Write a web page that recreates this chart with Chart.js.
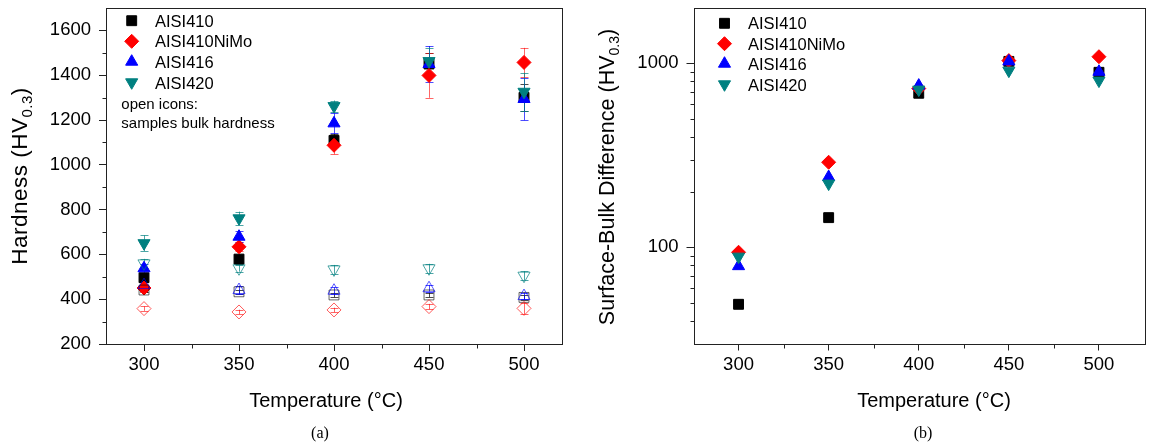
<!DOCTYPE html>
<html>
<head>
<meta charset="utf-8">
<script src="https://cdn.jsdelivr.net/npm/chart.js@4.4.1/dist/chart.umd.min.js"></script>
<style>
  html, body { margin: 0; padding: 0; background: #fff; }
  body { width: 1152px; height: 446px; position: relative; overflow: hidden; font-family: "Liberation Sans", Arial, sans-serif; color: #000; }
  .box { position: absolute; top: 0; width: 576px; height: 446px; }
  .ytitle { position: absolute; width: 320px; text-align: center; white-space: nowrap; font-size: 21.5px; line-height: 21.5px; transform-origin: 0 0; transform: rotate(-90deg); }
  .ytitle .sb { font-size: 14px; line-height: 0; vertical-align: -5px; }
  .xtitle { position: absolute; width: 300px; text-align: center; white-space: nowrap; font-size: 20px; line-height: 20px; }
  .cap { position: absolute; width: 60px; text-align: center; font-family: "Liberation Serif", "Times New Roman", serif; font-size: 16px; line-height: 16px; }
</style>
</head>
<body>
<div class="box" style="left:0"><canvas id="chartA" width="576" height="446"></canvas></div>
<div class="box" style="left:576px"><canvas id="chartB" width="576" height="446"></canvas></div>

<div class="ytitle" style="left:9px; top:336px; font-size:22.5px; line-height:22.5px; letter-spacing:0.5px;">Hardness (HV<span class="sb" style="font-size:15px">0.3</span>)</div>
<div class="ytitle" style="left:597px; top:337px;">Surface-Bulk Difference (HV<span class="sb">0.3</span>)</div>
<div class="xtitle" style="left:176px; top:390px;">Temperature (°C)</div>
<div class="xtitle" style="left:784px; top:390px;">Temperature (°C)</div>
<div class="cap" style="left:290px; top:425px;">(a)</div>
<div class="cap" style="left:893px; top:425px;">(b)</div>

<script>
// ---------------- DATA ----------------
const temps = [300, 350, 400, 450, 500];
const seriesNames = ['AISI410', 'AISI410NiMo', 'AISI416', 'AISI420'];

// (a) surface hardness (filled icons)
const surf410  = [496, 579, 1109, 1450, 1301];
const surfNiMo = [450, 634, 1087, 1399, 1457];
const surf416  = [538, 679, 1185, 1450, 1294];
const surf420  = [650, 761, 1262, 1463, 1326];
// error bars of surface hardness
const errSurf410  = [20, 20, 30, 50, 60];
const errSurfNiMo = [20, 20, 40, 100, 65];
const errSurf416  = [20, 25, 45, 80, 95];
const errSurf420  = [35, 30, 25, 60, 85];

// (a) bulk hardness (open icons)
const bulk410  = [441, 433, 419, 419, 408];
const bulkNiMo = [358, 343, 352, 367, 359];
const bulk416  = [463, 441, 438, 449, 414];
const bulk420  = [560, 538, 533, 538, 505];
const errBulk410  = [10, 10, 10, 10, 10];
const errBulkNiMo = [10, 10, 10, 12, 25];
const errBulk416  = [15, 20, 15, 15, 15];
const errBulk420  = [20, 15, 20, 20, 20];

// (b) surface-bulk difference
const diff410  = [49, 145, 688, 1025, 894];
const diffNiMo = [94, 290, 730, 1035, 1087];
const diff416  = [79, 241, 757, 1025, 900];
const diff420  = [89, 222, 720, 913, 806];

// tick values
const xTicks = [300, 350, 400, 450, 500];
const xMinor = [325, 375, 425, 475];
const hardTicks = [200, 400, 600, 800, 1000, 1200, 1400, 1600];
const hardMinor = [300, 500, 700, 900, 1100, 1300, 1500];
const diffTicks = [100, 1000];
const diffMinor = [40, 50, 60, 70, 80, 90, 200, 300, 400, 500, 600, 700, 800, 900];

const noteLines = ['open icons:', 'samples bulk hardness'];

// ---------------- STYLE ----------------
const FONT = '"Liberation Sans", Arial, sans-serif';
const AXIS = '#222';
const colors = ['#000000', '#ff0000', '#0000ff', '#008080'];
const openColors = ['rgba(0,0,0,0.6)', 'rgba(255,0,0,0.65)', 'rgba(0,0,255,0.65)', 'rgba(0,128,128,0.7)'];
const errColors = ['rgba(0,0,0,0.7)', 'rgba(255,0,0,0.6)', 'rgba(0,0,255,0.7)', 'rgba(0,128,128,0.7)'];
const styles = [
  { pointStyle: 'rect', rot: 0, r: 7 },
  { pointStyle: 'rectRot', rot: 0, r: 7 },
  { pointStyle: 'triangle', rot: 0, r: 7 },
  { pointStyle: 'triangle', rot: 180, r: 7 }
];

function pts(ys) { return temps.map((t, i) => ({ x: t, y: ys[i] })); }

function makeDs(label, ys, idx, open, errs, order) {
  const s = styles[idx];
  return {
    label: label,
    data: pts(ys),
    showLine: false,
    pointStyle: s.pointStyle,
    pointRotation: s.rot,
    pointRadius: s.r,
    pointHoverRadius: s.r,
    borderWidth: 1,
    pointBorderWidth: 1,
    backgroundColor: open ? 'rgba(0,0,0,0)' : colors[idx],
    borderColor: open ? openColors[idx] : colors[idx],
    pointBackgroundColor: open ? 'rgba(0,0,0,0)' : colors[idx],
    pointBorderColor: open ? openColors[idx] : colors[idx],
    errorBars: errs || null,
    errorColor: errColors[idx],
    isOpen: open,
    order: order
  };
}

// -------------- PLUGINS --------------
const frameAndTicks = {
  id: 'frameAndTicks',
  beforeDatasetsDraw(chart, args, opts) {
    const { ctx, chartArea: a } = chart;
    ctx.save();
    // error bars (beneath markers)
    chart.data.datasets.forEach((ds, di) => {
      if (!ds.errorBars) return;
      const meta = chart.getDatasetMeta(di);
      const ys = chart.scales.y;
      ctx.strokeStyle = ds.errorColor;
      ctx.lineWidth = 1;
      meta.data.forEach((el, i) => {
        const v = ds.data[i].y, e = ds.errorBars[i];
        const x = Math.round(el.x) + 0.5;
        const y1 = ys.getPixelForValue(v + e), y2 = ys.getPixelForValue(v - e);
        ctx.beginPath();
        ctx.moveTo(x, y1); ctx.lineTo(x, y2);
        ctx.moveTo(x - 4, Math.round(y1) + 0.5); ctx.lineTo(x + 4, Math.round(y1) + 0.5);
        ctx.moveTo(x - 4, Math.round(y2) + 0.5); ctx.lineTo(x + 4, Math.round(y2) + 0.5);
        ctx.stroke();
      });
    });
    // frame
    ctx.strokeStyle = AXIS;
    ctx.lineWidth = 1;
    ctx.strokeRect(Math.round(a.left) + 0.5, Math.round(a.top) + 0.5, Math.round(a.right - a.left), Math.round(a.bottom - a.top));
    // minor ticks
    ctx.beginPath();
    (opts.xMinor || []).forEach(v => {
      const x = Math.round(chart.scales.x.getPixelForValue(v)) + 0.5;
      ctx.moveTo(x, Math.round(a.bottom) + 0.5); ctx.lineTo(x, Math.round(a.bottom) + 4.5);
    });
    (opts.yMinor || []).forEach(v => {
      const y = Math.round(chart.scales.y.getPixelForValue(v)) + 0.5;
      ctx.moveTo(Math.round(a.left) + 0.5, y); ctx.lineTo(Math.round(a.left) - 3.5, y);
    });
    ctx.stroke();
    ctx.restore();
  }
};

const customLegend = {
  id: 'customLegend',
  afterDraw(chart, args, opts) {
    const { ctx, chartArea: a } = chart;
    ctx.save();
    ctx.font = '16.5px ' + FONT;
    ctx.textBaseline = 'alphabetic';
    ctx.textAlign = 'left';
    opts.items.forEach((di, i) => {
      const ds = chart.data.datasets[di];
      const yM = opts.markerY[i];
      ctx.fillStyle = ds.backgroundColor;
      ctx.strokeStyle = ds.borderColor;
      ctx.lineWidth = 1;
      Chart.helpers.drawPoint(ctx, { pointStyle: ds.pointStyle, rotation: ds.pointRotation, radius: ds.pointRadius, borderWidth: 1 }, a.left + opts.mx, yM);
      ctx.fillStyle = '#000';
      ctx.fillText(ds.label, a.left + opts.tx, opts.textY[i]);
    });
    if (opts.notes) {
      ctx.font = '15px ' + FONT;
      ctx.fillStyle = '#000';
      opts.notes.forEach((t, i) => ctx.fillText(t, a.left + opts.nx, opts.noteY[i]));
    }
    ctx.restore();
  }
};

function zeroPad(s) { s.paddingTop = 0; s.paddingBottom = 0; s.paddingLeft = 0; s.paddingRight = 0; }

function axisCommon() {
  return {
    grid: { display: true, drawOnChartArea: false, drawTicks: true, tickLength: 7, color: AXIS, lineWidth: 1 },
    border: { display: false },
    ticks: { color: '#000', font: { family: FONT, size: 18.5 }, autoSkip: false, maxRotation: 0, minRotation: 0, callback: v => String(v) }
  };
}

// -------------- CHART A --------------
const dsA = [
  makeDs(seriesNames[0], surf410, 0, false, errSurf410, 7),
  makeDs(seriesNames[1], surfNiMo, 1, false, errSurfNiMo, 6),
  makeDs(seriesNames[2], surf416, 2, false, errSurf416, 5),
  makeDs(seriesNames[3], surf420, 3, false, errSurf420, 4),
  makeDs(seriesNames[0] + ' bulk', bulk410, 0, true, errBulk410, 3),
  makeDs(seriesNames[1] + ' bulk', bulkNiMo, 1, true, errBulkNiMo, 2),
  makeDs(seriesNames[2] + ' bulk', bulk416, 2, true, errBulk416, 1),
  makeDs(seriesNames[3] + ' bulk', bulk420, 3, true, errBulk420, 0)
];

const xA = axisCommon();
Object.assign(xA, { type: 'linear', position: 'bottom', min: 280, max: 520,
  afterBuildTicks: s => { s.ticks = xTicks.map(v => ({ value: v })); },
  afterFit: s => { s.height = 102; zeroPad(s); } });
xA.ticks.padding = 3;
const yA = axisCommon();
Object.assign(yA, { type: 'linear', position: 'left', min: 200, max: 1700,
  afterBuildTicks: s => { s.ticks = hardTicks.map(v => ({ value: v })); },
  afterFit: s => { s.width = 106; zeroPad(s); } });
yA.ticks.padding = 8;

new Chart(document.getElementById('chartA'), {
  type: 'scatter',
  data: { datasets: dsA },
  options: {
    responsive: false, animation: false, events: [],
    layout: { padding: { top: 7, right: 14, left: 0, bottom: 0 } },
    scales: { x: xA, y: yA },
    plugins: {
      legend: { display: false }, tooltip: { enabled: false },
      frameAndTicks: { xMinor: xMinor, yMinor: hardMinor },
      customLegend: { items: [0, 1, 2, 3], mx: 25.7, tx: 49, markerY: [20.7, 41.3, 61.7, 82.3], textY: [26.7, 47.3, 67.9, 88.5],
        notes: noteLines, nx: 15.3, noteY: [109.3, 127.7] }
    }
  },
  plugins: [frameAndTicks, customLegend]
});

// -------------- CHART B --------------
const dsB = [
  makeDs(seriesNames[0], diff410, 0, false, null, 3),
  makeDs(seriesNames[1], diffNiMo, 1, false, null, 2),
  makeDs(seriesNames[2], diff416, 2, false, null, 1),
  makeDs(seriesNames[3], diff420, 3, false, null, 0)
];
const xB = axisCommon();
Object.assign(xB, { type: 'linear', position: 'bottom', min: 275, max: 525,
  afterBuildTicks: s => { s.ticks = xTicks.map(v => ({ value: v })); },
  afterFit: s => { s.height = 102.5; zeroPad(s); } });
xB.ticks.padding = 3;
const yB = axisCommon();
Object.assign(yB, { type: 'logarithmic', position: 'left', min: 30, max: 2000,
  afterBuildTicks: s => { s.ticks = diffTicks.map(v => ({ value: v })); },
  afterFit: s => { s.width = 117.5; zeroPad(s); } });
yB.ticks.padding = 8;

new Chart(document.getElementById('chartB'), {
  type: 'scatter',
  data: { datasets: dsB },
  options: {
    responsive: false, animation: false, events: [],
    layout: { padding: { top: 7, right: 3, left: 0, bottom: 0 } },
    scales: { x: xB, y: yB },
    plugins: {
      legend: { display: false }, tooltip: { enabled: false },
      frameAndTicks: { xMinor: xMinor, yMinor: diffMinor },
      customLegend: { items: [0, 1, 2, 3], mx: 31, tx: 54.5, markerY: [23.3, 43.7, 63.7, 84.3], textY: [29.3, 49.9, 70.4, 90.8] }
    }
  },
  plugins: [frameAndTicks, customLegend]
});
</script>
</body>
</html>
